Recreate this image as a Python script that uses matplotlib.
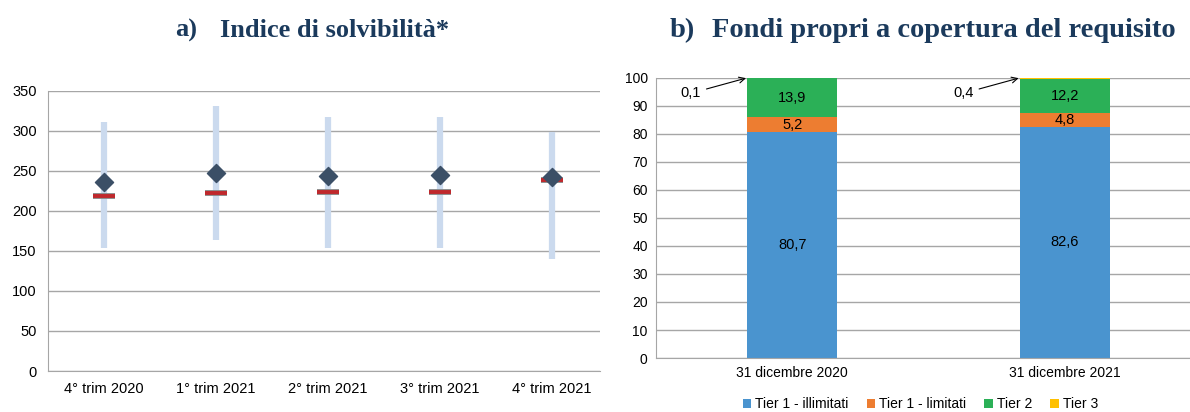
import matplotlib.pyplot as plt
import numpy as np

plt.rcParams['font.family'] = ['Liberation Sans', 'DejaVu Sans']

# pannello a) - indice di solvibilità
trimestri = ['4° trim 2020', '1° trim 2021', '2° trim 2021', '3° trim 2021', '4° trim 2021']
minimo = [154, 164, 154, 154, 140]
massimo = [311, 331, 317, 317, 298]
media = [236, 247, 244, 245, 242]
mediana = [219, 223, 224, 224, 238]

# pannello b) - fondi propri
date = ['31 dicembre 2020', '31 dicembre 2021']
tier1_ill = [80.7, 82.6]
tier1_lim = [5.2, 4.8]
tier2 = [13.9, 12.2]
tier3 = [0.1, 0.4]

title_col = '#1b3a5c'
grid_col = '#a6a6a6'

fig = plt.figure(figsize=(11.9, 4.12), dpi=100)

# ---- a)
ax1 = fig.add_axes([0.0403, 0.0995, 0.464, 0.680])
x = np.arange(len(trimestri))
ax1.vlines(x, minimo, massimo, color='#cbdaee', lw=4.5, zorder=2)
ax1.hlines(mediana, x - 0.1, x + 0.1, color='#888888', lw=4.2, zorder=3)
ax1.hlines(mediana, x - 0.095, x + 0.095, color='#c0282c', lw=2.8, zorder=4)
ax1.scatter(x, media, marker='D', s=85, color='#3b4f66', zorder=5)
ax1.set_ylim(0, 350)
ax1.set_yticks(range(0, 351, 50))
ax1.set_xlim(-0.5, 4.43)
ax1.set_xticks(x)
ax1.set_xticklabels(trimestri)
ax1.yaxis.grid(True, color=grid_col, lw=1)
ax1.set_axisbelow(True)
for s in ['top', 'right']:
    ax1.spines[s].set_visible(False)
for s in ['left', 'bottom']:
    ax1.spines[s].set_color(grid_col)
ax1.tick_params(length=0, labelsize=10.5, pad=8)

# ---- b)
ax2 = fig.add_axes([0.5513, 0.131, 0.449, 0.680])
xb = np.arange(len(date))
w = 0.33
serie = [(tier1_ill, 'Tier 1 - illimitati', '#4a94cf'),
         (tier1_lim, 'Tier 1 - limitati', '#ed7d31'),
         (tier2, 'Tier 2', '#2bb057'),
         (tier3, 'Tier 3', '#ffc000')]
bottom = np.zeros(len(date))
for vals, lab, col in serie:
    ax2.bar(xb, vals, w, bottom=bottom, color=col, label=lab, zorder=2)
    if lab != 'Tier 3':
        for xi, v, b in zip(xb, vals, bottom):
            ax2.text(xi, b + v / 2, f'{v:.1f}'.replace('.', ','), ha='center', va='center',
                     fontsize=10.5)
    bottom += np.array(vals)

for xi, v in zip(xb, tier3):
    ax2.annotate(f'{v:.1f}'.replace('.', ','), xy=(xi - w / 2 - 0.005, 99.9),
                 xytext=(xi - w / 2 - 0.17, 94.5), fontsize=10.5, ha='right', va='center',
                 arrowprops=dict(arrowstyle='->', color='black', lw=0.8, shrinkA=2, shrinkB=0))

ax2.set_ylim(0, 100)
ax2.set_yticks(range(0, 101, 10))
ax2.set_xlim(-0.5, 1.46)
ax2.set_xticks(xb)
ax2.set_xticklabels(date)
ax2.yaxis.grid(True, color=grid_col, lw=1)
ax2.set_axisbelow(True)
for s in ['top', 'right']:
    ax2.spines[s].set_visible(False)
for s in ['left', 'bottom']:
    ax2.spines[s].set_color(grid_col)
ax2.tick_params(axis='y', length=0, labelsize=10, pad=6)
ax2.tick_params(axis='x', length=0, labelsize=10, pad=6)
ax2.legend(loc='upper center', bbox_to_anchor=(0.495, -0.095), ncol=4, frameon=False,
           fontsize=10, handlelength=0.6, handleheight=0.6, handletextpad=0.3,
           columnspacing=1.3)

fig.text(0.147, 0.925, 'a)', ha='left', va='center',
         fontsize=19, fontweight='bold', color=title_col, family='Liberation Serif')
fig.text(0.185, 0.925, 'Indice di solvibilità*', ha='left', va='center',
         fontsize=19, fontweight='bold', color=title_col, family='Liberation Serif')
fig.text(0.563, 0.925, 'b)', ha='left', va='center',
         fontsize=20.5, fontweight='bold', color=title_col, family='Liberation Serif')
fig.text(0.598, 0.925, 'Fondi propri a copertura del requisito', ha='left', va='center',
         fontsize=20.5, fontweight='bold', color=title_col, family='Liberation Serif')

fig.savefig('out.png', dpi=100)
